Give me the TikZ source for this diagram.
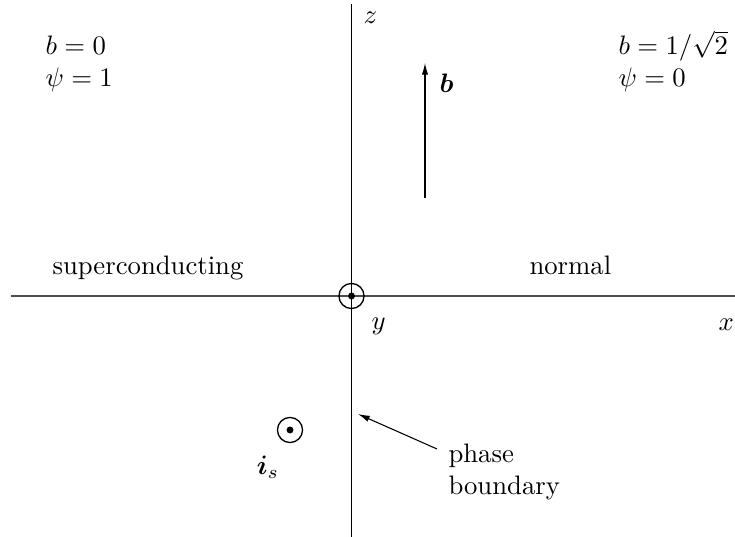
\documentclass[tikz,border=0pt]{standalone}
\usepackage{bm}
\usetikzlibrary{arrows.meta}
\begin{document}
\begin{tikzpicture}[x=0.3745pt,y=-0.3745pt,
  lbl/.style={inner sep=0pt,anchor=base west},
  ring/.style={circle,draw,line width=0.5pt,minimum size=9.4pt,inner sep=0pt},
  vec/.style={-{Latex[length=4.4pt,width=2.4pt]}}]
\useasboundingbox (0,0) rectangle (735,537);
% axes
\coordinate (xl) at (11,296);
\coordinate (xr) at (735,296);
\coordinate (zt) at (351.5,4);
\coordinate (zb) at (351.5,537);
\draw[black!70] (xl) -- (xr);
\draw (zt) -- (zb);
% origin y-out symbol
\node[ring] (o) at (351.5,296) {};
\fill (o.center) circle (1.3pt);
% axis labels
\node[lbl] (zlab) at (363,24) {$z$};
\node[lbl] (ylab) at (371,330) {$y$};
\node[lbl] (xlab) at (718,331) {$x$};
% region texts
\node[lbl] (b0) at (45,55) {$b=0$};
\node[lbl] (p1) at (45,87) {$\psi=1$};
\node[lbl] (b1) at (618,55) {$b=1/\sqrt{2}$};
\node[lbl] (p0) at (618,87) {$\psi=0$};
\node[lbl] (sc) at (52,275) {superconducting};
\node[lbl] (nm) at (529,275) {normal};
% b vector
\coordinate (bt) at (425,198);
\coordinate (bh) at (425,63);
\draw[vec] (bt) -- (bh);
\node[lbl] (blab) at (439,93) {$\bm{b}$};
% current
\node[ring] (is) at (290,430) {};
\fill (is.center) circle (1.3pt);
\node[inner sep=0pt] (islab) at (268,467) {$\bm{i}_s$};
% phase boundary
\node[lbl,align=left] (pb) at (448,495) {phase\\boundary};
\coordinate (pbtail) at (437,449);
\coordinate (pbtip) at (358,414);
\draw[vec] (pbtail) -- (pbtip);
\end{tikzpicture}
\end{document}
